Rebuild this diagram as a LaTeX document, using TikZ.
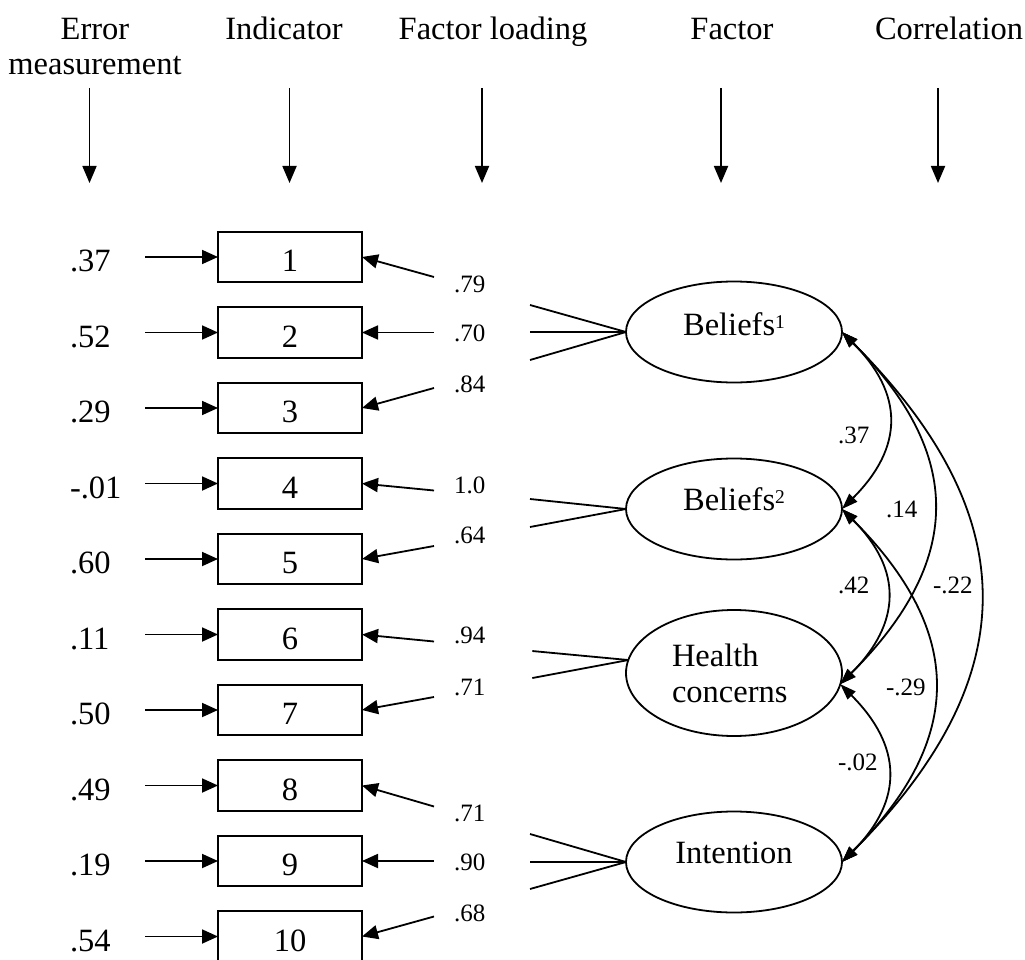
\documentclass[tikz,border=0pt]{standalone}
\usepackage{fontspec}
\setmainfont{Liberation Serif}
\usetikzlibrary{arrows.meta,shapes.geometric}
\newcommand\BigT{\fontsize{32.5}{37}\selectfont}
\newcommand\SmallT{\fontsize{25}{28}\selectfont}
\newcommand\SupOne[1]{\raisebox{7pt}{\fontsize{19.5}{21}\selectfont #1}}
\begin{document}
\begin{tikzpicture}[x=1pt,y=-1pt,
  every node/.style={inner sep=0pt,outer sep=0pt},
  lw/.style={line width=1.8pt},
  harr/.style={lw,-{Triangle[length=17pt,width=14pt]}},
  rarr/.style={lw,{Triangle[length=16pt,width=14pt]}-},
  carr/.style={lw,{Triangle[length=16pt,width=11pt]}-{Triangle[length=16pt,width=11pt]}},
  ind/.style={draw,lw,minimum width=144pt,minimum height=50.5pt},
  fac/.style={draw,lw,ellipse,minimum width=216pt,minimum height=101pt},
  bigtxt/.style={font=\BigT},
  smalltxt/.style={font=\SmallT}]
\useasboundingbox (0,0) rectangle (1025,960);
\clip (0,0) rectangle (1025,960);

% headers
\node[bigtxt,anchor=base] (h1) at (95,40) {Error};
\node[bigtxt,anchor=base] (h1b) at (95,75) {measurement};
\node[bigtxt,anchor=base] (h2) at (284,40) {Indicator};
\node[bigtxt,anchor=base] (h3) at (493,40) {Factor loading};
\node[bigtxt,anchor=base] (h4) at (732,40) {Factor};
\node[bigtxt,anchor=base] (h5) at (949,40) {Correlation};
\foreach \xx [count=\k] in {89.5,289.5,482,721,938}{
  \coordinate (ha\k) at (\xx,88);
  \coordinate (hb\k) at (\xx,183);
  \draw[harr] (ha\k) -- (hb\k);
}

% indicators, error terms
\foreach \v [count=\i] in {.37,.52,.29,-.01,.60,.11,.50,.49,.19,.54}{
  \node[ind] (x\i) at (290,{257+75.5*(\i-1)}) {};
  \node[bigtxt,anchor=base] (n\i) at (290,{271.5+75.5*(\i-1)}) {\i};
  \node[bigtxt,anchor=base west] (e\i) at (70,{271.5+75.5*(\i-1)}) {\v};
  \draw[rarr] (x\i.west) -- ++(-73,0);
}

% loadings
\foreach \v/\dy/\by [count=\i] in {.79/20/35,.70/0/9,.84/-20/-16,1.0/7/9.5,.64/-13/-16,.94/7/8.5,.71/-13/-15,.71/21/35.5,.90/0/9,.68/-20/-15}{
  \draw[rarr] (x\i.east) -- ++(72,\dy);
  \node[smalltxt,anchor=base west] (l\i) at (454,{257+75.5*(\i-1)+\by}) {\v};
}

% factors
\node[fac] (b1) at (734,332) {};
\node[fac] (b2) at (734,509) {};
\node[fac,minimum height=126pt] (hc) at (734,673) {};
\node[fac] (it) at (734,862) {};
\node[bigtxt,anchor=base] (tb1) at (734,335) {Beliefs\SupOne{1}};
\node[bigtxt,anchor=base] (tb2) at (734,510) {Beliefs\SupOne{2}};
\node[bigtxt,anchor=base west] (th1) at (672,666) {Health};
\node[bigtxt,anchor=base west] (th2) at (672,702) {concerns};
\node[bigtxt,anchor=base] (tit) at (734,863) {Intention};

% factor lines
\draw[lw] (b1.west) -- ++(-96,-27);
\draw[lw] (b1.west) -- ++(-96,0);
\draw[lw] (b1.west) -- ++(-96,28);
\draw[lw] (b2.west) -- ++(-96,-10);
\draw[lw] (b2.west) -- ++(-96,18);
\draw[lw] (hc.173) -- ++(-96,-9);
\draw[lw] (hc.173) -- ++(-96,18);
\draw[lw] (it.west) -- ++(-96,-28);
\draw[lw] (it.west) -- ++(-96,0);
\draw[lw] (it.west) -- ++(-96,27);

% correlations
\draw[carr] (b1.east) .. controls +(62,62) and +(62,-62) .. (b2.east);
\draw[carr] (b1.east) .. controls +(123,123) and +(123,-123) .. (hc.-6);
\draw[carr] (b1.east) .. controls +(184,184) and +(184,-184) .. (it.east);
\draw[carr] (b2.east) .. controls +(61,61) and +(61,-61) .. (hc.-6);
\draw[carr] (b2.east) .. controls +(123,123) and +(123,-123) .. (it.east);
\draw[carr] (hc.-6) .. controls +(62,62) and +(62,-62) .. (it.east);

\node[smalltxt,anchor=base west] (c1) at (838,443) {.37};
\node[smalltxt,anchor=base west] (c2) at (886,517) {.14};
\node[smalltxt,anchor=base west] (c3) at (838,593) {.42};
\node[smalltxt,anchor=base west] (c4) at (933,593) {-.22};
\node[smalltxt,anchor=base west] (c5) at (886,695) {-.29};
\node[smalltxt,anchor=base west] (c6) at (838,770) {-.02};
\end{tikzpicture}
\end{document}
